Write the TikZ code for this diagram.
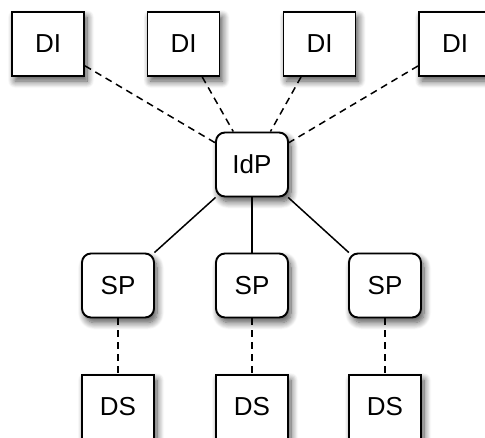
\documentclass[tikz,border=0pt]{standalone}
\usepackage{fontspec}
\setmainfont{Liberation Sans}
\usetikzlibrary{shadows.blur}
\tikzset{
  entity/.style={draw=black, line width=1.9pt, fill=white,
    minimum width=72pt, minimum height=64pt, inner sep=0pt,
    font=\fontsize{26}{30}\selectfont,
    blur shadow={shadow xshift=3pt, shadow yshift=-5pt,
      shadow blur radius=7pt, shadow blur steps=10, shadow opacity=70}},
  squarebox/.style={entity},
  roundbox/.style={entity, rounded corners=9pt},
  trust/.style={line width=1.5pt, dash pattern=on 7pt off 5pt},
  link/.style={line width=1.5pt}
}
\begin{document}
\begin{tikzpicture}[x=1pt,y=-1pt]
  \useasboundingbox (0,0) rectangle (485,437);
  \clip (0,0) rectangle (485,437);

  % identity provider
  \node[roundbox] (idp) at (252,164.5) {IdP};

  % discovery / identity nodes along the top
  \node[squarebox] (di1) at (48,44) {DI};
  \node[squarebox] (di2) at (183.5,44) {DI};
  \node[squarebox] (di3) at (319.5,44) {DI};
  \node[squarebox] (di4) at (455,44) {DI};

  % service providers
  \node[roundbox] (sp1) at (118,285.5) {SP};
  \node[roundbox] (sp2) at (252,285.5) {SP};
  \node[roundbox] (sp3) at (385,285.5) {SP};

  % data stores
  \node[squarebox] (ds1) at (118,407) {DS};
  \node[squarebox] (ds2) at (252,407) {DS};
  \node[squarebox] (ds3) at (385,407) {DS};

  % connectors
  \foreach \d in {di1,di2,di3,di4}
    \draw[trust] (\d) -- (idp);
  \foreach \s in {sp1,sp2,sp3}
    \draw[link] (idp) -- (\s);
  \draw[trust] (sp1) -- (ds1);
  \draw[trust] (sp2) -- (ds2);
  \draw[trust] (sp3) -- (ds3);
\end{tikzpicture}
\end{document}
